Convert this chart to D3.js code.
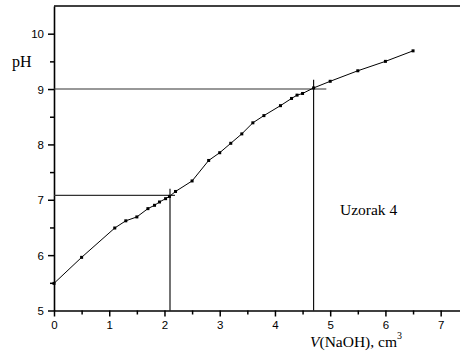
<!DOCTYPE html>
<html>
<head>
<meta charset="utf-8">
<script src="https://cdn.jsdelivr.net/npm/d3@7"></script>
<style>
  body { margin: 0; background: #fff; }
  svg { display: block; }
  .tick text { font-family: Arial, "Liberation Sans", sans-serif; font-size: 11.5px; fill: #000; }
</style>
</head>
<body>
<div id="chart"></div>
<script>
// titration data: V(NaOH) in cm3 and measured pH
var volume = [0, 0.5, 1.1, 1.3, 1.5, 1.7, 1.82, 1.91, 2.02, 2.09, 2.2, 2.5, 2.8, 3.0, 3.2, 3.4, 3.6, 3.8, 4.1, 4.3, 4.4, 4.5, 4.7, 5.0, 5.5, 6.0, 6.5];
var pH     = [5.49, 5.96, 6.49, 6.62, 6.69, 6.84, 6.9, 6.96, 7.02, 7.06, 7.15, 7.34, 7.71, 7.85, 8.02, 8.19, 8.39, 8.52, 8.7, 8.83, 8.89, 8.92, 9.02, 9.14, 9.33, 9.5, 9.69];

// equivalence point guides: [x0, y0, x1, y1] in data units
var guidesH = [[0, 7.08, 2.19, 7.08], [0, 9.0, 4.93, 9.0]];
var guidesV = [[2.1, 5, 2.1, 7.2], [4.7, 5, 4.7, 9.17]];

var xTicks = [0, 1, 2, 3, 4, 5, 6, 7];
var yTicks = [5, 6, 7, 8, 9, 10];

var W = 460, H = 355;
var margin = { left: 54, right: 0, top: 6, bottom: 44 };

var svg = d3.select("#chart").append("svg")
  .attr("width", W)
  .attr("height", H);

var x = d3.scaleLinear().domain([0, 7.35]).range([margin.left, W - margin.right]);
var y = d3.scaleLinear().domain([5, 10.5]).range([H - margin.bottom - 0.5, margin.top]);

// minor ticks
var xMinor = d3.range(0.5, 7.35, 1);
var yMinor = d3.range(5.5, 10.5, 1);

svg.append("g")
  .attr("transform", "translate(0," + y(5) + ")")
  .call(d3.axisBottom(x).tickValues(xMinor).tickSize(4).tickFormat(""))
  .call(function (g) { g.select(".domain").remove(); })
  .selectAll("line").attr("stroke-width", 1.5);

svg.append("g")
  .attr("transform", "translate(" + x(0) + ",0)")
  .call(d3.axisLeft(y).tickValues(yMinor).tickSize(4).tickFormat(""))
  .call(function (g) { g.select(".domain").remove(); })
  .selectAll("line").attr("stroke-width", 1.5);

// major axes
var xAxis = svg.append("g")
  .attr("transform", "translate(0," + y(5) + ")")
  .call(d3.axisBottom(x).tickValues(xTicks).tickFormat(d3.format("d"))
    .tickSize(6).tickPadding(4).tickSizeOuter(0));
xAxis.select(".domain").attr("stroke-width", 1.6);
xAxis.selectAll(".tick line").attr("stroke-width", 1.5);

var yAxis = svg.append("g")
  .attr("transform", "translate(" + x(0) + ",0)")
  .call(d3.axisLeft(y).tickValues(yTicks).tickFormat(d3.format("d"))
    .tickSize(6).tickPadding(4).tickSizeOuter(0));
yAxis.select(".domain").attr("stroke-width", 1.6);
yAxis.selectAll(".tick line").attr("stroke-width", 1.5);
yAxis.selectAll(".tick text").attr("dy", "0.36em");

// top frame line
svg.append("line")
  .attr("x1", x(0)).attr("x2", W)
  .attr("y1", y(10.5)).attr("y2", y(10.5))
  .attr("stroke", "#000").attr("stroke-width", 1.6);

// guide lines
svg.selectAll(".guide-h")
  .data(guidesH).enter().append("line")
  .attr("class", "guide-h")
  .attr("x1", function (d) { return x(d[0]); })
  .attr("y1", function (d) { return y(d[1]); })
  .attr("x2", function (d) { return x(d[2]); })
  .attr("y2", function (d) { return y(d[3]); })
  .attr("stroke", "#333").attr("stroke-width", 1.1);

svg.selectAll(".guide-v")
  .data(guidesV).enter().append("line")
  .attr("class", "guide-v")
  .attr("x1", function (d) { return x(d[0]); })
  .attr("y1", function (d) { return y(d[1]); })
  .attr("x2", function (d) { return x(d[2]); })
  .attr("y2", function (d) { return y(d[3]); })
  .attr("stroke", "#000").attr("stroke-width", 1.1);

// curve
var pts = volume.map(function (v, i) { return [v, pH[i]]; });

var line = d3.line()
  .x(function (d) { return x(d[0]); })
  .y(function (d) { return y(d[1]); });

svg.append("path")
  .datum(pts)
  .attr("fill", "none")
  .attr("stroke", "#000")
  .attr("stroke-width", 1)
  .attr("d", line);

svg.selectAll(".pt")
  .data(pts).enter().append("rect")
  .attr("class", "pt")
  .attr("x", function (d) { return x(d[0]) - 1.5; })
  .attr("y", function (d) { return y(d[1]) - 1.5; })
  .attr("width", 3)
  .attr("height", 3)
  .attr("fill", "#000");

// labels
svg.append("text")
  .attr("x", 12).attr("y", 67)
  .attr("font-family", "'Liberation Serif', 'Times New Roman', serif")
  .attr("font-size", "16px")
  .text("pH");

var xl = svg.append("text")
  .attr("x", 310).attr("y", 347)
  .attr("font-family", "'Liberation Serif', 'Times New Roman', serif")
  .attr("font-size", "15.5px");
xl.append("tspan").attr("font-style", "italic").text("V");
xl.append("tspan").text("(NaOH), cm");
xl.append("tspan").attr("font-size", "10px").attr("dy", "-8").text("3");

svg.append("text")
  .attr("x", 340).attr("y", 215)
  .attr("font-family", "'Liberation Serif', 'Times New Roman', serif")
  .attr("font-size", "15.5px")
  .text("Uzorak 4");
</script>
</body>
</html>
